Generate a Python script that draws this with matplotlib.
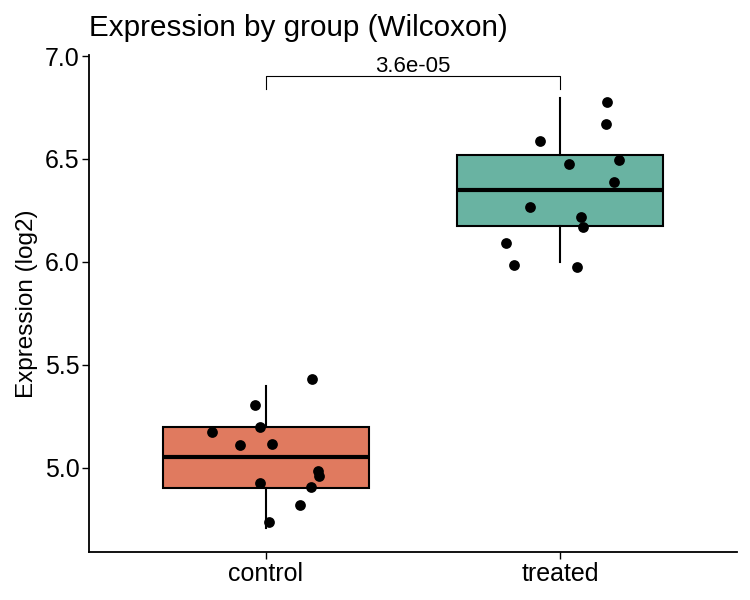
import numpy as np
import matplotlib
matplotlib.use("Agg")
import matplotlib.pyplot as plt

plt.rcParams['font.family'] = ['Liberation Sans', 'DejaVu Sans']

groups = ["control", "treated"]
colors = ["#E07A5F", "#69B3A2"]

# jittered points (x = group position + jitter)
ctrl_x = [0.817, 0.963, 1.156, 0.982, 0.914, 1.020, 1.177, 1.182, 0.982, 1.153, 1.115, 1.010]
ctrl_y = [5.172, 5.305, 5.431, 5.198, 5.112, 5.115, 4.984, 4.961, 4.924, 4.908, 4.817, 4.736]
trt_x = [2.160, 2.155, 1.931, 2.029, 2.198, 2.182, 1.898, 2.071, 2.078, 1.817, 1.842, 2.057]
trt_y = [6.776, 6.669, 6.589, 6.474, 6.494, 6.387, 6.268, 6.220, 6.168, 6.090, 5.983, 5.977]

# box statistics: whislo, q1, med, q3, whishi
box_stats = {
    "control": [4.707, 4.900, 5.050, 5.199, 5.397],
    "treated": [6.001, 6.176, 6.349, 6.519, 6.795],
}
p_label = "3.6e-05"
bracket_y = 6.903
bracket_tip = 6.839

fig = plt.figure(figsize=(7.5, 6), dpi=100)
ax = fig.add_axes([0.1187, 0.08, 0.864, 0.8283])

stats = []
for g in groups:
    lo, q1, med, q3, hi = box_stats[g]
    stats.append(dict(whislo=lo, q1=q1, med=med, q3=q3, whishi=hi, fliers=[], label=g))

bp = ax.bxp(stats, positions=[1, 2], widths=0.7, patch_artist=True, showcaps=False,
            boxprops=dict(linewidth=1.5, edgecolor="black"),
            medianprops=dict(linewidth=3, color="black"),
            whiskerprops=dict(linewidth=1.5, color="black"), zorder=2)
for patch, c in zip(bp["boxes"], colors):
    patch.set_facecolor(c)

ax.scatter(ctrl_x, ctrl_y, s=60, color="black", zorder=3, linewidths=0)
ax.scatter(trt_x, trt_y, s=60, color="black", zorder=3, linewidths=0)

# significance bracket
ax.plot([1, 1, 2, 2], [bracket_tip, bracket_y, bracket_y, bracket_tip], color="black", lw=0.8)
ax.text(1.5, bracket_y + 0.02, p_label, ha="center", va="baseline", fontsize=16)

ax.set_xlim(0.4, 2.6)
ax.set_ylim(4.590, 7.005)
ax.set_xticks([1, 2])
ax.set_xticklabels(groups)
ax.set_yticks([5.0, 5.5, 6.0, 6.5, 7.0])
ax.set_yticklabels(["5.0", "5.5", "6.0", "6.5", "7.0"])
ax.tick_params(labelsize=18, length=5, width=1.0, color="black", labelcolor="black", pad=2)
for s in ["top", "right"]:
    ax.spines[s].set_visible(False)
for s in ["left", "bottom"]:
    ax.spines[s].set_linewidth(1.3)

ax.set_ylabel("Expression (log2)", fontsize=17.5, labelpad=5)
ax.set_title("Expression by group (Wilcoxon)", fontsize=21.3, loc="left", x=0.0, pad=14)

fig.savefig("out.png", dpi=100)
